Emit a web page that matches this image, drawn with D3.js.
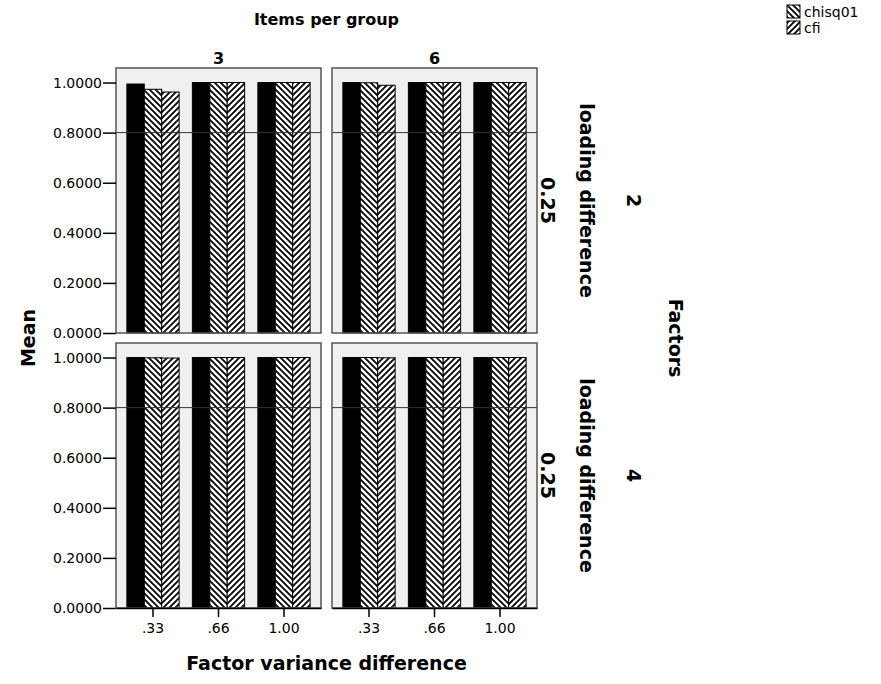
<!DOCTYPE html>
<html>
<head>
<meta charset="utf-8">
<script src="https://d3js.org/d3.v7.min.js"></script>
<style>
  body { margin: 0; background: #fff; }
  svg text { font-family: "DejaVu Sans", sans-serif; fill: #000; }
  .title { font-weight: bold; font-size: 19px; }
  .panel-title { font-weight: bold; font-size: 16px; }
  .tick-label { font-size: 14px; }
</style>
</head>
<body>
<svg id="chart" width="881" height="684"></svg>
<script>
// panel layout: rows = Factors, columns = Items per group
const factors = ["2", "4"];
const itemsPerGroup = ["3", "6"];
const varianceDiff = [".33", ".66", "1.00"];
const yTicks = [0, 0.2, 0.4, 0.6, 0.8, 1.0];
const refLine = 0.8;

// means, ordered factors 2 (items 3, items 6), factors 4 (items 3, items 6), each .33/.66/1.00
const solidMeans = [0.994, 1.000, 1.000, 1.000, 1.000, 1.000,
                    1.000, 1.000, 1.000, 1.000, 1.000, 1.000];
const chisq01Means = [0.973, 1.000, 1.000, 0.999, 1.000, 1.000,
                      0.999, 1.000, 1.000, 1.000, 1.000, 1.000];
const cfiMeans = [0.962, 1.000, 1.000, 0.989, 1.000, 1.000,
                  0.998, 1.000, 1.000, 0.999, 1.000, 1.000];
const legendNames = ["chisq01", "cfi"];

var margin = { left: 116, top: 68 },
    panelW = 205,
    panelH = 265,
    gap = 11;

const svg = d3.select("#chart");

// hatch fills
const defs = svg.append("defs");
function hatch(id, dir) {
    const p = defs.append("pattern")
        .attr("id", id)
        .attr("patternUnits", "userSpaceOnUse")
        .attr("width", 6).attr("height", 6);
    p.append("rect").attr("width", 6).attr("height", 6).attr("fill", "#fff");
    const d = dir > 0
        ? "M-1,-1 L7,7 M-1,5 L1,7 M5,-1 L7,1"
        : "M-1,7 L7,-1 M-1,1 L1,-1 M5,7 L7,5";
    p.append("path").attr("d", d).attr("stroke", "#000").attr("stroke-width", 1.8);
}
hatch("back", 1);
hatch("fwd", -1);

const fills = ["#000", "url(#back)", "url(#fwd)"];
const seriesVals = [solidMeans, chisq01Means, cfiMeans];

const x = d3.scaleBand().domain(varianceDiff).range([0, panelW]).paddingInner(0).paddingOuter(0.065);
const xs = d3.scaleBand().domain([0, 1, 2]).range([0, x.bandwidth()]).paddingInner(0).paddingOuter(0.38);
const y = d3.scaleLinear().domain([0, 1.058]).range([panelH, 0]);

factors.forEach((f, ri) => {
    itemsPerGroup.forEach((it, ci) => {
        const px = margin.left + ci * (panelW + gap);
        const py = margin.top + ri * (panelH + gap - 1);
        const g = svg.append("g").attr("transform", "translate(" + px + "," + py + ")");

        g.append("rect")
            .attr("width", panelW).attr("height", panelH)
            .attr("fill", "#f0f0f0");

        const base = (ri * 2 + ci) * varianceDiff.length;
        const bars = [];
        varianceDiff.forEach((v, vi) => {
            seriesVals.forEach((vals, si) => {
                bars.push({ cat: v, s: si, value: vals[base + vi] });
            });
        });

        g.selectAll("rect.bar")
            .data(bars)
            .join("rect")
            .attr("class", "bar")
            .attr("x", d => x(d.cat) + xs(d.s))
            .attr("width", xs.bandwidth())
            .attr("y", d => y(d.value))
            .attr("height", d => panelH - y(d.value))
            .attr("fill", d => fills[d.s])
            .attr("stroke", "#000")
            .attr("stroke-width", 1);

        g.append("line")
            .attr("x1", 0).attr("x2", panelW)
            .attr("y1", y(refLine)).attr("y2", y(refLine))
            .attr("stroke", "#333").attr("stroke-width", 1);

        g.append("rect")
            .attr("width", panelW).attr("height", panelH)
            .attr("fill", "none")
            .attr("stroke", "#555").attr("stroke-width", 1.5);

        if (ci === 0) {
            const ax = g.append("g").call(d3.axisLeft(y).tickValues(yTicks).tickSize(13).tickFormat(d3.format(".4f")));
            ax.select(".domain").remove();
            ax.selectAll("line").attr("stroke", "#000").attr("stroke-width", 1.5);
            ax.selectAll("text").attr("class", "tick-label").attr("font-size", null).attr("font-family", null).attr("x", -14);
        }
        if (ri === factors.length - 1) {
            const ax = g.append("g").attr("transform", "translate(0," + panelH + ")")
                .call(d3.axisBottom(x).tickSize(9).tickSizeOuter(0));
            ax.select(".domain").attr("stroke", "#000").attr("stroke-width", 1.5);
            ax.selectAll("line").attr("stroke", "#000").attr("stroke-width", 1.5);
            ax.selectAll("text").attr("class", "tick-label").attr("font-size", null).attr("font-family", null).attr("y", 15);
        }
        if (ri === 0) {
            svg.append("text").attr("class", "panel-title")
                .attr("x", px + panelW / 2).attr("y", margin.top - 4)
                .attr("text-anchor", "middle")
                .text(it);
        }
        if (ci === itemsPerGroup.length - 1) {
            const cy = py + panelH / 2;
            const strip = [[548, "0.25"], [587, "loading difference"], [634, f]];
            strip.forEach(s => {
                svg.append("text").attr("class", "title")
                    .attr("transform", "translate(" + s[0] + "," + cy + ") rotate(90)")
                    .attr("text-anchor", "middle")
                    .attr("dominant-baseline", "central")
                    .text(s[1]);
            });
        }
    });
});

const midX = margin.left + panelW + gap / 2;
svg.append("text").attr("class", "panel-title")
    .attr("x", midX).attr("y", 25).attr("text-anchor", "middle")
    .text("Items per group");
svg.append("text").attr("class", "title")
    .attr("x", midX).attr("y", 670).attr("text-anchor", "middle")
    .text("Factor variance difference");
svg.append("text").attr("class", "title")
    .attr("transform", "translate(28,338) rotate(-90)")
    .attr("text-anchor", "middle").attr("dominant-baseline", "central")
    .text("Mean");
svg.append("text").attr("class", "title")
    .attr("transform", "translate(676,338) rotate(90)")
    .attr("text-anchor", "middle").attr("dominant-baseline", "central")
    .text("Factors");

// legend
const legend = svg.append("g").attr("transform", "translate(787,5)");
legendNames.forEach((n, i) => {
    legend.append("rect")
        .attr("x", 0).attr("y", i * 16)
        .attr("width", 13).attr("height", 13)
        .attr("fill", fills[i + 1]).attr("stroke", "#000");
    legend.append("text")
        .attr("x", 17).attr("y", i * 16 + 12)
        .attr("font-size", 14)
        .text(n);
});
</script>
</body>
</html>
